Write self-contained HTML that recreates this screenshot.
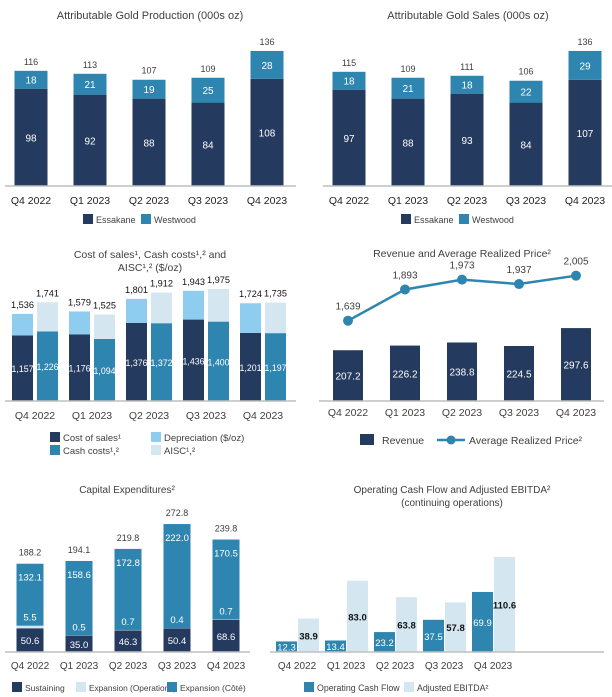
<!DOCTYPE html>
<html><head><meta charset="utf-8"><style>
html,body{margin:0;padding:0;background:#fff}
svg{display:block;font-family:"Liberation Sans",sans-serif}
</style></head><body>
<svg id="s" width="612" height="697" viewBox="0 0 612 697" xmlns="http://www.w3.org/2000/svg"></svg>
<script>
const quarters=["Q4 2022","Q1 2023","Q2 2023","Q3 2023","Q4 2023"];
const prodEss=[98,92,88,84,108];
const prodWest=[18,21,19,25,28];
const prodTotal=[116,113,107,109,136];
const salesEss=[97,88,93,84,107];
const salesWest=[18,21,18,22,29];
const salesTotal=[115,109,111,106,136];
const costSales=[1157,1176,1376,1436,1201];
const costWithDep=[1536,1579,1801,1943,1724];
const cashCosts=[1226,1094,1372,1400,1197];
const aisc=[1741,1525,1912,1975,1735];
const revenue=[207.2,226.2,238.8,224.5,297.6];
const price=[1639,1893,1973,1937,2005];
const sustaining=[50.6,35.0,46.3,50.4,68.6];
const expOps=[5.5,0.5,0.7,0.4,0.7];
const expCote=[132.1,158.6,172.8,222.0,170.5];
const capexTotal=[188.2,194.1,219.8,272.8,239.8];
const ocf=[12.3,13.4,23.2,37.5,69.9];
const ebitda=[38.9,83.0,63.8,57.8,110.6];

const NAVY="#243a5e",TEAL="#2e86b0",DEP="#8fcdf0",LIGHT="#d4e7f1",TXT="#404040";
const S=document.getElementById('s');
const NS="http://www.w3.org/2000/svg";
function mk(tag,attrs,parent){const e=document.createElementNS(NS,tag);for(const k in attrs)e.setAttribute(k,attrs[k]);(parent||S).appendChild(e);return e;}
function rect(x,y,w,h,fill,name){const e=mk('rect',{x:x,y:y,width:w,height:h,fill:fill});


return e;}
function text(x,y,str,size,fill,name,anchor,weight){const e=mk('text',{x:x,y:y,'font-size':size,fill:fill,'text-anchor':anchor||'middle','font-weight':weight||'normal'});e.textContent=str;


return e;}
function axis(x1,x2,y,name){const e=mk('line',{x1:x1,x2:x2,y1:y,y2:y,stroke:'#bfbfbf','stroke-width':1.5});

}
function legend(x,y,color,label,name,fs){rect(x,y-8,10,10,color,name+'-swatch');text(x+13,y+1,label,fs||9.5,TXT,name+'-label','start');}

function stackChart(ox,ess,west,tot,title,pre){
  const base=186,k=0.993,w=33,c0=ox+31,step=59;
  const yv=v=>base-v*k;
  text(ox+150,19,title,11,TXT,pre+'-title');
  quarters.forEach((q,i)=>{const cx=c0+i*step;
    rect(cx-w/2,yv(ess[i]),w,ess[i]*k,NAVY,pre+'-essakane-bar-'+i);
    rect(cx-w/2,yv(ess[i]+west[i]),w,west[i]*k,TEAL,pre+'-westwood-bar-'+i);
    text(cx,yv(ess[i]/2)+4,ess[i],10,'#fff',pre+'-essakane-value-'+i);
    text(cx,yv(ess[i]+west[i]/2)+4,west[i],10,'#fff',pre+'-westwood-value-'+i);
    text(cx,yv(tot[i])-6,tot[i],9,TXT,pre+'-total-value-'+i);
    text(cx,204,q,10.5,'#222',pre+'-x-label-'+i);
  });
  axis(ox+5,ox+296,base,pre+'-x-axis');
  legend(ox+83,222,NAVY,'Essakane',pre+'-legend-essakane',9);
  legend(ox+141,222,TEAL,'Westwood',pre+'-legend-westwood',9);
}
stackChart(0,prodEss,prodWest,prodTotal,'Attributable Gold Production (000s oz)','production');
stackChart(318,salesEss,salesWest,salesTotal,'Attributable Gold Sales (000s oz)','sales');

(function(){
  const base=401,k=0.0567,w=21,g0=12,step=57;const yv=v=>base-v*k;
  text(150,258,'Cost of sales¹, Cash costs¹,² and',10.5,TXT,'cost-title-line1');
  text(150,271,'AISC¹,² ($/oz)',10.5,TXT,'cost-title-line2');
  quarters.forEach((q,i)=>{const x1=g0+i*step,x2=x1+25;
    rect(x1,yv(costSales[i]),w,costSales[i]*k,NAVY,'cost-of-sales-bar-'+i);
    rect(x1,yv(costWithDep[i]),w,(costWithDep[i]-costSales[i])*k,DEP,'depreciation-bar-'+i);
    rect(x2,yv(cashCosts[i]),w,cashCosts[i]*k,TEAL,'cash-costs-bar-'+i);
    rect(x2,yv(aisc[i]),w,(aisc[i]-cashCosts[i])*k,LIGHT,'aisc-bar-'+i);
    text(x1+w/2,yv(costSales[i]/2)+4,costSales[i].toLocaleString('en-US'),8.8,'#fff','cost-of-sales-value-'+i);
    text(x2+w/2,yv(cashCosts[i]/2)+4,cashCosts[i].toLocaleString('en-US'),8.8,'#fff','cash-costs-value-'+i);
    text(x1+w/2,yv(costWithDep[i])-6,costWithDep[i].toLocaleString('en-US'),9.2,'#111','cost-total-value-'+i);
    text(x2+w/2,yv(aisc[i])-6,aisc[i].toLocaleString('en-US'),9.2,'#111','aisc-value-'+i);
    text(x1+23,419,q,10.5,TXT,'cost-x-label-'+i);
  });
  axis(5,296,base,'cost-x-axis');
  legend(50,440,NAVY,'Cost of sales¹','legend-cost-of-sales');
  legend(50,453,TEAL,'Cash costs¹,²','legend-cash-costs');
  legend(151,440,DEP,'Depreciation ($/oz)','legend-depreciation');
  legend(151,453,LIGHT,'AISC¹,²','legend-aisc');
})();

(function(){
  const base=401,k=0.245,w=30,c0=348,step=57;const yv=v=>base-v*k;
  const py=v=>320.7-(v-1639)*0.123;
  text(462,257,'Revenue and Average Realized Price²',10.5,TXT,'revenue-title');
  quarters.forEach((q,i)=>{const cx=c0+i*step;
    rect(cx-w/2,yv(revenue[i]),w,revenue[i]*k,NAVY,'revenue-bar-'+i);
    text(cx,yv(revenue[i]/2)+4,revenue[i].toFixed(1),10,'#fff','revenue-value-'+i);
    text(cx,416,q,10.5,TXT,'revenue-x-label-'+i);
  });
  const pts=price.map((v,i)=>(c0+i*step)+','+py(v)).join(' ');
  const pl=mk('polyline',{points:pts,fill:'none',stroke:TEAL,'stroke-width':2.5});
  
  
  price.forEach((v,i)=>{const cx=c0+i*step;
    const c=mk('circle',{cx:cx,cy:py(v),r:5,fill:TEAL});
    
    
    text(cx,py(v)-11,v.toLocaleString('en-US'),10,TXT,'price-value-'+i);
  });
  axis(319,604,base,'revenue-x-axis');
  rect(360,434,14,11,NAVY,'legend-revenue-swatch');
  text(382,444,'Revenue',10.5,TXT,'legend-revenue-label','start');
  const ll=mk('line',{x1:437,x2:465,y1:440,y2:440,stroke:TEAL,'stroke-width':2.5});
  
  
  const lc=mk('circle',{cx:451,cy:440,r:4.5,fill:TEAL});
  
  
  text(469,444,'Average Realized Price²',10.5,TXT,'legend-price-label','start');
})();

(function(){
  const base=652,k=0.469,w=27,c0=30,step=49;const yv=v=>base-v*k;
  text(127,493,'Capital Expenditures²',10,TXT,'capex-title');
  quarters.forEach((q,i)=>{const cx=c0+i*step,x=cx-w/2;
    const s=sustaining[i],o=expOps[i],c=expCote[i];
    rect(x,yv(s),w,s*k,NAVY,'sustaining-bar-'+i);
    rect(x,yv(s+o),w,o*k,LIGHT,'expansion-operations-bar-'+i);
    rect(x,yv(s+o+c),w,c*k,TEAL,'expansion-cote-bar-'+i);
    text(cx,yv(s/2)+4,s.toFixed(1),9.5,'#fff','sustaining-value-'+i);
    text(cx,yv(s+o)-5,o.toFixed(1),9.5,'#fff','expansion-operations-value-'+i);
    text(cx,yv(s+o+c)+17,c.toFixed(1),9.5,'#fff','expansion-cote-value-'+i);
    text(cx,yv(capexTotal[i])-8,capexTotal[i].toFixed(1),9,TXT,'capex-total-value-'+i);
    text(cx,669,q,10,TXT,'capex-x-label-'+i);
  });
  axis(5,250,base,'capex-x-axis');
  legend(12,690,NAVY,'Sustaining','legend-sustaining',8.5);
  legend(76,690,LIGHT,'Expansion (Operations)','legend-expansion-operations',8.3);
  legend(167,690,TEAL,'Expansion (Côté)','legend-expansion-cote',8.5);
})();

(function(){
  const base=652,k=0.859,w=21,g0=276,step=49;const yv=v=>base-v*k;
  text(452,493,'Operating Cash Flow and Adjusted EBITDA²',10,TXT,'ocf-title-line1');
  text(452,506,'(continuing operations)',10,TXT,'ocf-title-line2');
  quarters.forEach((q,i)=>{const x1=g0+i*step,x2=x1+22;
    rect(x1,yv(ocf[i]),w,ocf[i]*k,TEAL,'ocf-bar-'+i);
    rect(x2,yv(ebitda[i]),w,ebitda[i]*k,LIGHT,'ebitda-bar-'+i);
    text(x1+w/2,yv(ocf[i]/2)+4,ocf[i].toFixed(1),9.5,'#fff','ocf-value-'+i);
    text(x2+w/2,yv(ebitda[i]/2)+4,ebitda[i].toFixed(1),9.5,'#111','ebitda-value-'+i,'middle','bold');
    text(x1+21,669,q,10,TXT,'ocf-x-label-'+i);
  });
  axis(270,604,base,'ocf-x-axis');
  legend(304,690,TEAL,'Operating Cash Flow','legend-ocf',8.8);
  legend(404,690,LIGHT,'Adjusted EBITDA²','legend-ebitda',8.8);
})();
</script>
</body></html>
